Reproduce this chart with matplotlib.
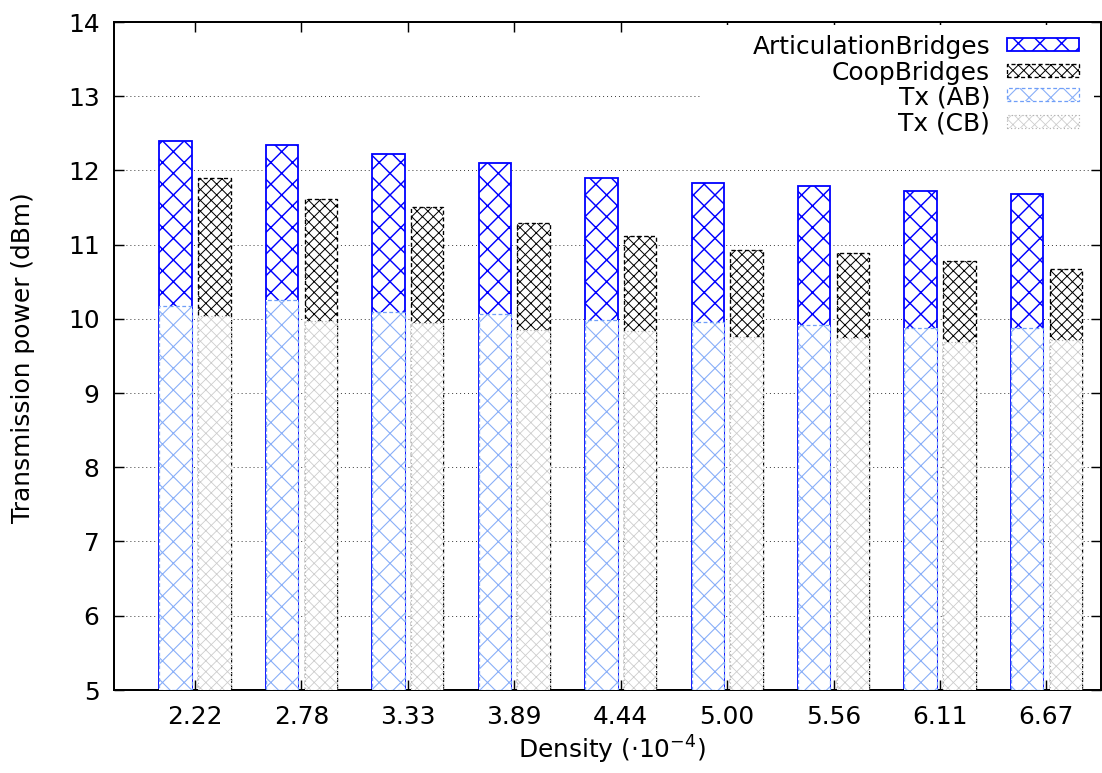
import matplotlib
matplotlib.use("Agg")
import matplotlib.pyplot as plt
from matplotlib.patches import Rectangle
import numpy as np

# ---- data -------------------------------------------------------------
density_labels = ["2.22", "2.78", "3.33", "3.89", "4.44", "5.00", "5.56", "6.11", "6.67"]
articulation_bridges = [12.40, 12.34, 12.22, 12.10, 11.90, 11.83, 11.79, 11.72, 11.68]
coop_bridges = [11.89, 11.62, 11.50, 11.29, 11.12, 10.92, 10.89, 10.78, 10.67]
tx_ab = [10.17, 10.25, 10.09, 10.07, 9.98, 9.95, 9.91, 9.87, 9.88]
tx_cb = [10.04, 9.97, 9.94, 9.85, 9.83, 9.76, 9.74, 9.69, 9.71]
series_names = ["ArticulationBridges", "CoopBridges", "Tx (AB)", "Tx (CB)"]

# ---- figure geometry (pixels) ----------------------------------------
DPI = 65
W, H = 1102, 773
AX_L, AX_R, AX_T, AX_B = 114, 1101, 22, 690
FS = 27.5

plt.rcParams['font.family'] = ['DejaVu Sans']
plt.rcParams['mathtext.fontset'] = 'dejavusans'

fig = plt.figure(figsize=((W + 0.2) / DPI, (H + 0.2) / DPI), dpi=DPI)
ax = fig.add_axes([AX_L / W, 1 - AX_B / H, (AX_R - AX_L) / W, (AX_B - AX_T) / H])

x = np.arange(len(density_labels))
bw = 0.305
off = 0.182
YMIN, YMAX = 5, 14


def hatched_bars(xpos, values, hatch, hcolor, hlw, ecolor, elw, ls, z):
    with plt.rc_context({'hatch.linewidth': hlw}):
        bars = ax.bar(xpos, np.asarray(values) - YMIN, bottom=YMIN, width=bw,
                      facecolor='white', edgecolor=hcolor, linewidth=0,
                      hatch=hatch, zorder=z)
    for b in bars:
        if hasattr(b, 'set_hatch_linewidth'):
            b.set_hatch_linewidth(hlw)
    ax.bar(xpos, np.asarray(values) - YMIN, bottom=YMIN, width=bw,
           fill=False, edgecolor=ecolor, linewidth=elw, linestyle=ls,
           zorder=z + 0.1)


styles = [
    dict(hatch='x', hcolor='#0000ff', hlw=1.6, ecolor='#0000ff', elw=2.0, ls='-'),
    dict(hatch='xx', hcolor='#000000', hlw=1.1, ecolor='#000000', elw=1.5, ls=(0, (3, 2))),
    dict(hatch='x', hcolor='#88aef8', hlw=1.2, ecolor='#6f9ef8', elw=1.4, ls=(0, (3, 2))),
    dict(hatch='xx', hcolor='#cccccc', hlw=0.9, ecolor='#b0b0b0', elw=1.3, ls=(0, (1, 2))),
]

hatched_bars(x - off, articulation_bridges, z=2, **styles[0])
hatched_bars(x + off, coop_bridges, z=2, **styles[1])
hatched_bars(x - off, tx_ab, z=3, **styles[2])
hatched_bars(x + off, tx_cb, z=3, **styles[3])

# ---- axes -------------------------------------------------------------
ax.set_xlim((AX_L - 195) / 106.4, (AX_R - 195) / 106.4)
ax.set_ylim(YMIN, YMAX)
ax.set_xticks(x)
ax.set_xticklabels(density_labels)
ax.set_yticks(np.arange(YMIN, YMAX + 1))
ax.tick_params(direction='in', length=11, width=1.6, top=True, right=True,
               labelsize=FS, pad=16, colors='black')
for s in ax.spines.values():
    s.set_linewidth(2.2)

ax.set_axisbelow(True)
ax.yaxis.grid(True, linestyle=(0, (1, 3)), color='#404040', linewidth=1.1)

fig.text(23 / W, 1 - 358 / H, 'Transmission power (dBm)', rotation=90,
         ha='center', va='center', fontsize=FS)
fig.text(612 / W, 1 - 750 / H, r'Density ($\cdot$10$^{\mathregular{-4}}$)',
         ha='center', va='center', fontsize=FS)

# ---- key --------------------------------------------------------------
def fx(px):
    return (px - AX_L) / (AX_R - AX_L)


def fy(py):
    return (AX_B - py) / (AX_B - AX_T)


ax.add_patch(Rectangle((fx(700), fy(140)), fx(1094) - fx(700), fy(25) - fy(140),
                       transform=ax.transAxes, facecolor='white', edgecolor='none',
                       zorder=4))
rows = [45, 71, 95, 121.5]
for name, st, yc in zip(series_names, styles, rows):
    ax.text(fx(990), fy(yc + 9), name, transform=ax.transAxes, ha='right',
            va='baseline', fontsize=FS, zorder=6)
    with plt.rc_context({'hatch.linewidth': st['hlw']}):
        p = Rectangle((fx(1007), fy(yc + 6.5)), fx(1079) - fx(1007), fy(yc - 6.5) - fy(yc + 6.5),
                      transform=ax.transAxes, facecolor='white', edgecolor=st['hcolor'],
                      linewidth=0, hatch=st['hatch'], zorder=5)
    if hasattr(p, 'set_hatch_linewidth'):
        p.set_hatch_linewidth(st['hlw'])
    ax.add_patch(p)
    ax.add_patch(Rectangle((fx(1007), fy(yc + 6.5)), fx(1079) - fx(1007), fy(yc - 6.5) - fy(yc + 6.5),
                           transform=ax.transAxes, fill=False, edgecolor=st['ecolor'],
                           linewidth=st['elw'], linestyle=st['ls'], zorder=5.1))

fig.savefig('out.png', dpi=DPI)
